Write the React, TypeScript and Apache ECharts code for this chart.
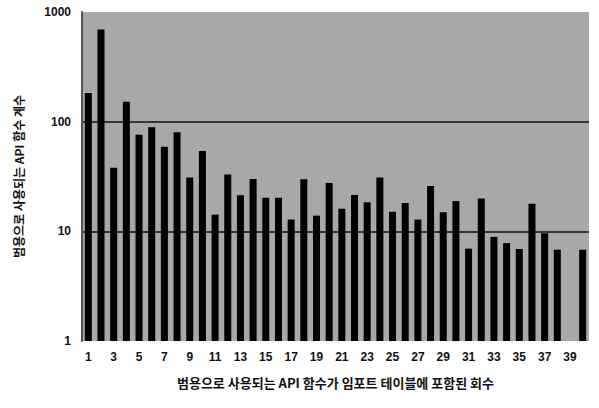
import React, { useEffect, useRef } from "react";
import * as echarts from "echarts";

const categories: string[] = Array.from({ length: 40 }, (_, i) => String(i + 1));
const counts: (number | null)[] = [
  183, 694, 38, 152, 76, 89, 59, 80, 31, 54,
  14.2, 33, 21.3, 30, 20.2, 20.2, 12.8, 29.8, 13.9, 27.6,
  16.1, 21.4, 18.4, 31, 15.1, 18.1, 12.8, 25.9, 14.9, 18.9,
  6.95, 19.9, 8.9, 7.8, 6.9, 17.8, 9.6, 6.8, null, 6.8,
];
const yAxisTitle = "범용으로 사용되는 API 함수 계수";
const xAxisTitle = "범용으로 사용되는 API 함수가 임포트 테이블에 포함된 회수";

export default function App() {
  const ref = useRef<HTMLDivElement>(null);
  useEffect(() => {
    if (!ref.current) return;
    const chart = echarts.init(ref.current, null, { renderer: "svg" });
    const font = "'Noto Sans CJK KR', 'Noto Sans', sans-serif";
    chart.setOption({
      animation: false,
      backgroundColor: "#ffffff",
      grid: {
        left: 82,
        top: 12,
        right: 10,
        bottom: 67,
        show: true,
        backgroundColor: "#a8a8a8",
        borderWidth: 0,
      },
      xAxis: {
        type: "category",
        data: categories,
        name: xAxisTitle,
        nameLocation: "middle",
        nameGap: 35,
        nameTextStyle: { fontFamily: font, fontSize: 13, fontWeight: "bold", color: "#111" },
        axisLine: { show: false },
        axisTick: { show: false },
        axisLabel: {
          interval: 1,
          margin: 10,
          fontFamily: "'Liberation Sans Narrow', Arial, 'Liberation Sans', sans-serif",
          fontSize: 12,
          fontWeight: "bold",
          color: "#111",
        },
      },
      yAxis: {
        type: "log",
        logBase: 10,
        min: 1,
        max: 1000,
        name: yAxisTitle,
        nameLocation: "middle",
        nameGap: 58,
        nameTextStyle: { fontFamily: font, fontSize: 12, fontWeight: "bold", color: "#111" },
        axisLine: { show: true, lineStyle: { color: "#555", width: 2 } },
        axisTick: { show: false },
        axisLabel: {
          margin: 11,
          formatter: (v: number) => String(Math.round(v)),
          fontFamily: "Arial, 'Liberation Sans', sans-serif",
          fontSize: 12,
          fontWeight: "bold",
          color: "#111",
        },
        splitLine: {
          show: true,
          lineStyle: { color: ["rgba(0,0,0,0)", "#111", "#111", "rgba(0,0,0,0)"], width: 1.5 },
        },
      },
      series: [
        {
          type: "bar",
          data: counts,
          barWidth: 7,
          itemStyle: { color: "#000" },
        },
      ],
    });
    return () => chart.dispose();
  }, []);
  return (
    <div
      ref={ref}
      style={{ position: "fixed", left: 0, top: 0, width: 599, height: 408 }}
    />
  );
}
